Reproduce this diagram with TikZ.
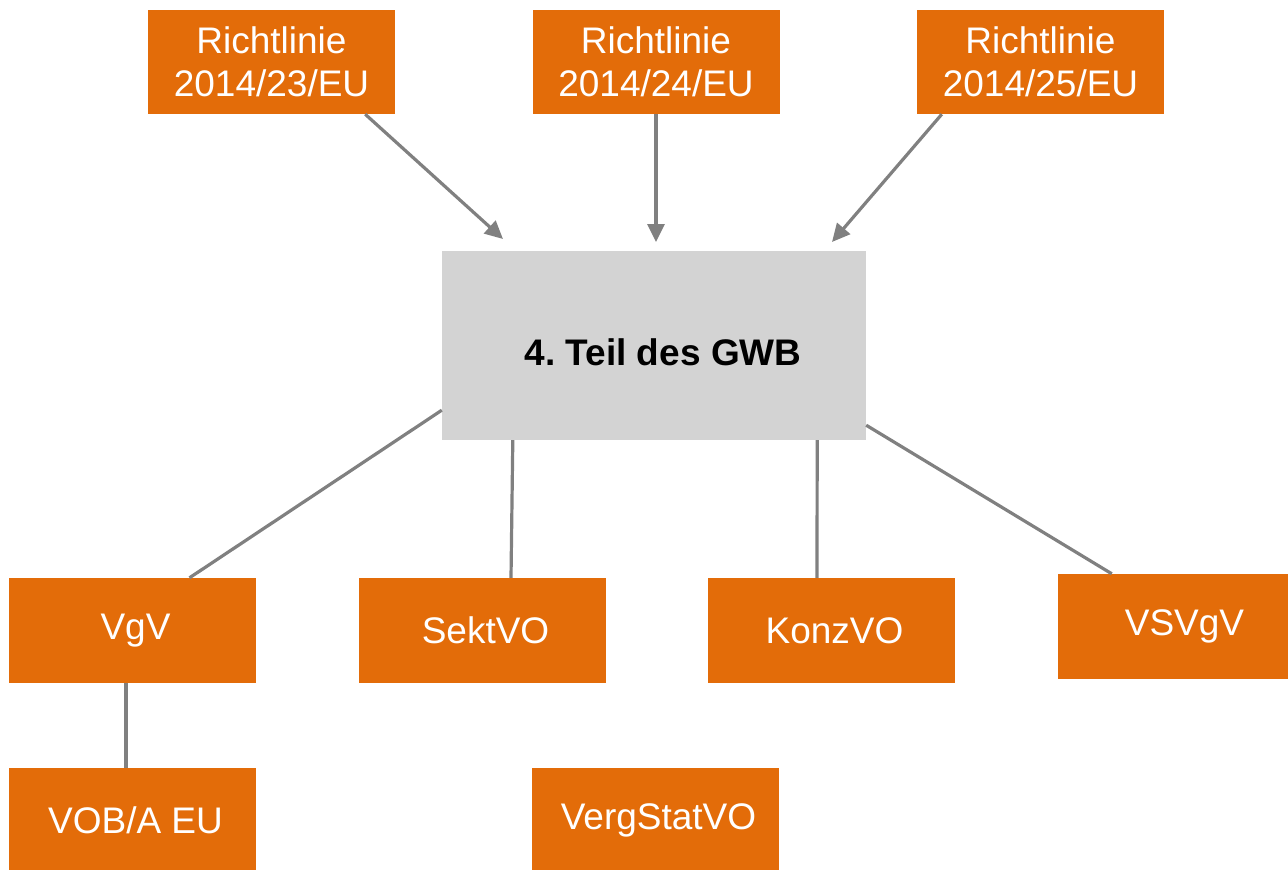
\documentclass[tikz,border=0pt]{standalone}
\usepackage{fontspec}
\setmainfont{Liberation Sans}
\usetikzlibrary{arrows.meta}
\definecolor{boxorange}{HTML}{E36C09}
\definecolor{linegray}{HTML}{808080}
\definecolor{boxgray}{HTML}{D3D3D3}
\frenchspacing
\begin{document}
\begin{tikzpicture}[x=1pt, y=-1pt,
    obox/.style={rectangle, fill=boxorange, text=white, inner sep=0pt,
        minimum width=247pt, minimum height=105pt, align=center,
        font=\fontsize{37}{43}\selectfont},
    link/.style={draw=linegray, line width=3.2pt},
    feed/.style={link, -{Triangle[length=18pt, width=17pt]}}]
    \useasboundingbox (0,0) rectangle (1288,870);

    % Directives on top
    \node[obox, minimum height=104pt] (r1) at (271.5,62) {Richtlinie\\2014/23/EU};
    \node[obox, minimum height=104pt] (r2) at (656,62) {Richtlinie\\2014/24/EU};
    \node[obox, minimum height=104pt] (r3) at (1040.5,62) {Richtlinie\\2014/25/EU};

    % Central block
    \node[rectangle, fill=boxgray, minimum width=424pt, minimum height=189pt, inner sep=0pt] (gwb) at (654,345.5) {};
    \node[font=\fontsize{37}{43}\selectfont\bfseries] (gwbtext) at (663,352) {4. Teil des GWB};

    % Regulations below
    \node[obox] (vgv) at (132.5,630.5) {\hspace{6pt}VgV};
    \node[obox] (sekt) at (482.5,630.5) {\hspace{6pt}SektVO};
    \node[obox] (konz) at (831.5,630.5) {\hspace{6pt}KonzVO};
    \node[obox] (vsvgv) at (1181.5,626.5) {\hspace{6pt}VSVgV};
    \node[obox] (vob) at (132.5,820.5) {\hspace{6pt}VOB/A EU};
    \node[obox] (stat) at (655.5,820.5) {\hspace{6pt}VergStatVO};

    % Arrow tips stop short of the block
    \coordinate (t1) at (503,239);
    \coordinate (t2) at (656,242);
    \coordinate (t3) at (832,242);
    \draw[feed] ([xshift=-30pt]r1.south east) -- (t1);
    \draw[feed] (r2.south) -- (t2);
    \draw[feed] ([xshift=25pt]r3.south west) -- (t3);

    % Plain links
    \draw[link] ([yshift=30pt]gwb.south west) -- ([xshift=57pt]vgv.north);
    \draw[link] ([xshift=71pt]gwb.south west) -- ([xshift=28.5pt]sekt.north);
    \draw[link] ([xshift=-49pt]gwb.south east) -- ([xshift=-14.5pt]konz.north);
    \draw[link] ([yshift=15pt]gwb.south east) -- ([xshift=54pt]vsvgv.north west);
    \draw[link] ([xshift=-6.5pt]vgv.south) -- ([xshift=-6.5pt]vob.north);
\end{tikzpicture}
\end{document}
